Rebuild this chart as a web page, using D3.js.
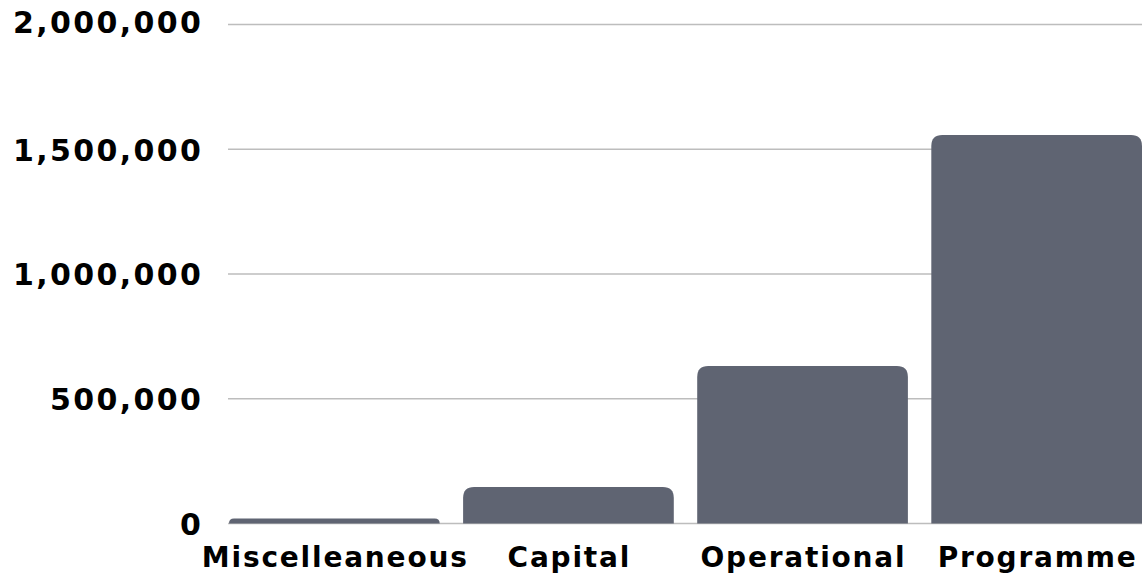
<!DOCTYPE html>
<meta charset="utf-8">
<style>
body { margin: 0; background: white; }
.tick text { font-family: 'DejaVu Sans', sans-serif; font-weight: 700; fill: #000; }
</style>
<body>
<script src="https://d3js.org/d3.v7.min.js"></script>
<script>
// chart data
const categories = ["Miscelleaneous", "Capital", "Operational", "Programme"];
const amounts = [20000, 146000, 631000, 1557000];
const yTicks = [0, 500000, 1000000, 1500000, 2000000];

const width = 1142, height = 579;
const plotLeft = 229, plotRight = 1142, plotTop = 24.5, plotBottom = 523.5;

const svg = d3.select("body").append("svg")
    .attr("width", width)
    .attr("height", height);

const x = d3.scaleBand()
    .domain(categories)
    .range([plotLeft, plotRight])
    .paddingInner(0.1)
    .paddingOuter(0);

const y = d3.scaleLinear()
    .domain([0, 2000000])
    .range([plotBottom, plotTop]);

// gridlines
svg.append("g")
  .selectAll("line")
  .data(yTicks)
  .join("line")
    .attr("x1", plotLeft - 1)
    .attr("x2", width)
    .attr("y1", d => y(d))
    .attr("y2", d => y(d))
    .attr("stroke", "#bdbdbd")
    .attr("stroke-width", 1.5);

// y labels
const yls = 2.4;
const yAxis = svg.append("g")
    .attr("transform", "translate(" + (201 + yls) + ",0)")
    .call(d3.axisLeft(y).tickValues(yTicks).tickSize(0).tickPadding(0).tickFormat(d3.format(",")));
yAxis.select(".domain").remove();
yAxis.selectAll("text")
    .style("font-size", "30px")
    .style("letter-spacing", yls + "px")
    .attr("dy", d => d === 2000000 ? "0.25em" : "0.36em");

// bars with rounded tops
const r = 11;
function barPath(d, i) {
  const x0 = x(categories[i]), w = x.bandwidth();
  const y0 = y(d), y1 = y(0);
  const rr = Math.min(r, (y1 - y0));
  return "M" + x0 + "," + y1 +
    "V" + (y0 + rr) +
    "Q" + x0 + "," + y0 + " " + (x0 + rr) + "," + y0 +
    "H" + (x0 + w - rr) +
    "Q" + (x0 + w) + "," + y0 + " " + (x0 + w) + "," + (y0 + rr) +
    "V" + y1 + "Z";
}
svg.append("g")
  .selectAll("path")
  .data(amounts)
  .join("path")
    .attr("d", barPath)
    .attr("fill", "#5f6472");

// x labels
const xls = 1.8;
const xAxis = svg.append("g")
    .attr("transform", "translate(" + (xls / 2) + ",567)")
    .call(d3.axisBottom(x).tickSize(0).tickPadding(0));
xAxis.select(".domain").remove();
xAxis.selectAll("text")
    .style("font-size", "28px")
    .style("letter-spacing", xls + "px")
    .attr("dy", "0");
</script>
</body>
